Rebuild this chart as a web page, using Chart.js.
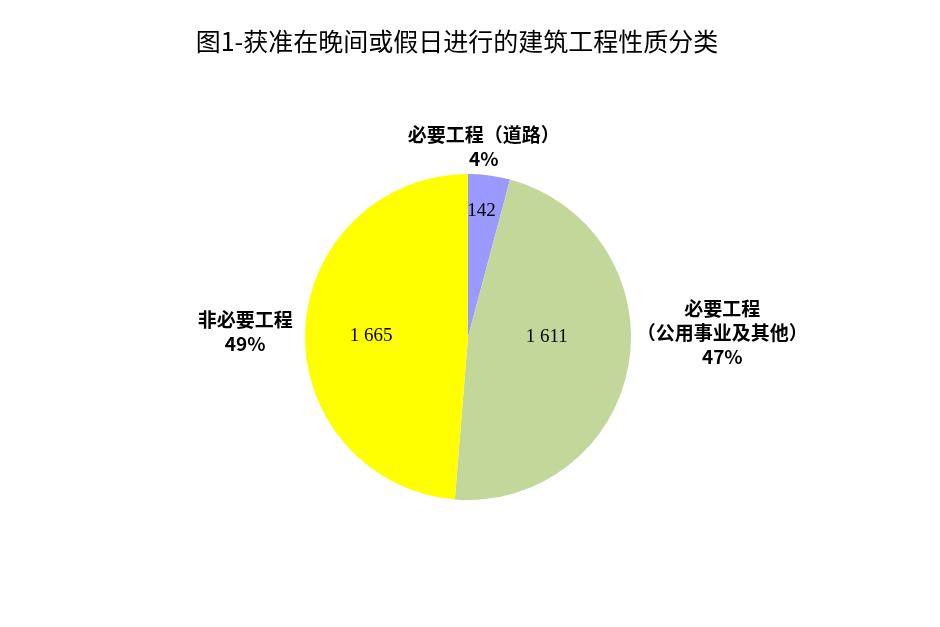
<!DOCTYPE html>
<html lang="zh-CN">
<head>
<meta charset="utf-8">
<title>建筑工程性质分类</title>
<script src="https://cdn.jsdelivr.net/npm/chart.js@4/dist/chart.umd.min.js"></script>
<style>
    html, body {
        margin: 0;
        padding: 0;
        background: #ffffff;
    }
    #wrap {
        position: relative;
        width: 940px;
        height: 627px;
    }
</style>
</head>
<body>
<div id="wrap">
    <canvas id="workTypeChart" width="940" height="627"></canvas>
</div>

<script>
// 图表数据
const chartTitle = '图1-获准在晚间或假日进行的建筑工程性质分类';
const categoryLabels = [
    ['必要工程（道路）'],
    ['必要工程', '（公用事业及其他）'],
    ['非必要工程']
];
const caseCounts = [142, 1611, 1665];
const sliceColors = ['#9999FF', '#C4D79B', '#FFFF00'];

// 标签位置微调 (相对于扇区中线)
const innerRadiusRatio = [0.78, 0.49, 0.595];
const innerNudgeX = [-3, 0, 0];
const innerNudgeY = [0, -14, 3];
const outerDistance = [190, 254, 223];
const outerNudgeX = [-9, 4, 0];
const outerNudgeY = [-2, -47, 4];

const cjkFont = '"Noto Sans CJK SC", "Noto Sans", sans-serif';
const numFont = '"Liberation Serif", "DejaVu Serif", serif';
const labelSize = 19;


// 千位空格格式
function formatCount(value) {
    return String(value).replace(/\B(?=(\d{3})+(?!\d))/g, ' ');
}


// 逐字绘制 (全角括号占满一格)
function drawSpacedText(ctx, text, cx, cy, size) {

    const chars = Array.from(text);
    const glyphs = chars.map(function(c) { return ctx.measureText(c).width; });
    const cells = chars.map(function(c, i) {
        return (c === '（' || c === '）') ? Math.max(glyphs[i], size) : glyphs[i];
    });
    const total = cells.reduce(function(a, b) { return a + b; }, 0);

    let x = cx - total / 2;

    ctx.textAlign = 'left';
    chars.forEach(function(c, i) {
        const shift = (c === '（') ? cells[i] - glyphs[i] : 0;
        ctx.fillText(c, x + shift, cy);
        x += cells[i];
    });
    ctx.textAlign = 'center';
}


// 标题 + 数据标签
const pieLabelPlugin = {
    id: 'pieLabelPlugin',
    afterDatasetsDraw(chart) {

        const ctx = chart.ctx;
        const meta = chart.getDatasetMeta(0);
        const total = caseCounts.reduce(function(a, b) { return a + b; }, 0);

        ctx.save();

        // 标题
        ctx.fillStyle = '#000000';
        ctx.textAlign = 'center';
        ctx.textBaseline = 'middle';
        ctx.font = '25px ' + cjkFont;
        ctx.fillText(chartTitle, 457, 41);

        meta.data.forEach(function(arc, i) {

            const mid = (arc.startAngle + arc.endAngle) / 2;
            const cosA = Math.cos(mid);
            const sinA = Math.sin(mid);

            // 扇区内数值
            const rIn = arc.outerRadius * innerRadiusRatio[i];
            ctx.font = '19px ' + numFont;
            ctx.fillText(
                formatCount(caseCounts[i]),
                arc.x + cosA * rIn + innerNudgeX[i],
                arc.y + sinA * rIn + innerNudgeY[i]
            );

            // 扇区外类别 + 百分比
            const lines = categoryLabels[i].concat([Math.round(caseCounts[i] / total * 100) + '%']);
            const cx = arc.x + cosA * outerDistance[i] + outerNudgeX[i];
            const cy = arc.y + sinA * outerDistance[i] + outerNudgeY[i];
            const lineHeight = 24;
            const top = cy - (lines.length - 1) * lineHeight / 2;

            ctx.font = 'bold ' + labelSize + 'px ' + cjkFont;
            lines.forEach(function(text, k) {
                drawSpacedText(ctx, text, cx, top + k * lineHeight, labelSize);
            });
        });

        ctx.restore();
    }
};


// 饼图
function initWorkTypeChart() {

    const el = document.getElementById('workTypeChart');

    if (!el) {
        return;
    }

    new Chart(el.getContext('2d'), {
        type: 'pie',
        data: {
            labels: categoryLabels.map(function(l) { return l.join(''); }),
            datasets: [
                {
                    data: caseCounts,
                    backgroundColor: sliceColors,
                    borderWidth: 0
                }
            ]
        },
        options: {
            responsive: false,
            animation: false,
            layout: {
                padding: {
                    top: 174,
                    bottom: 127,
                    left: 142,
                    right: 146
                }
            },
            plugins: {
                legend: { display: false },
                title: { display: false },
                tooltip: { enabled: false }
            }
        },
        plugins: [pieLabelPlugin]
    });
}

initWorkTypeChart();
</script>
</body>
</html>
